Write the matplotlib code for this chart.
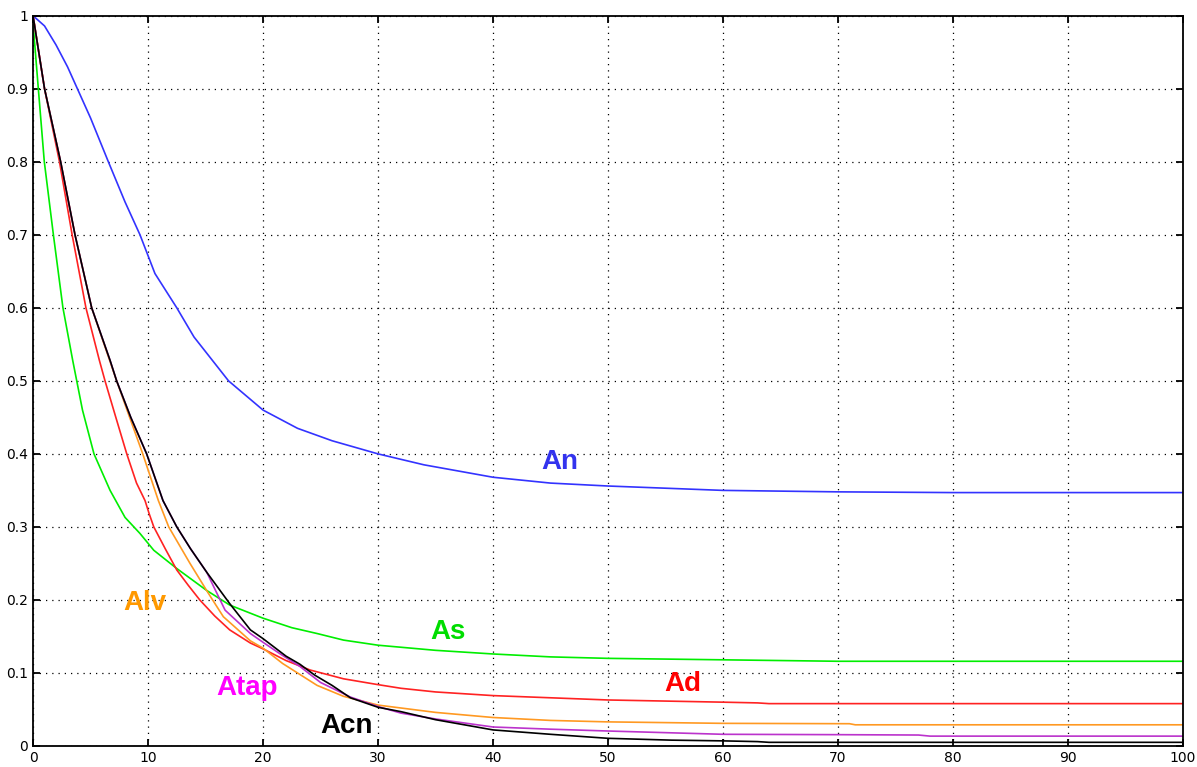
import matplotlib.pyplot as plt
from matplotlib.ticker import FuncFormatter

# curves (x, y pairs)
an_x = [0, 1, 2, 3, 4, 5, 6.55, 8, 9.3, 10.6, 12.5, 14, 15.5, 17, 20, 23, 26, 30, 34, 40, 45, 50, 60, 70, 80, 100]
an_y = [1, 0.986, 0.96, 0.93, 0.895, 0.86, 0.80, 0.745, 0.70, 0.647, 0.60, 0.56, 0.53, 0.50, 0.46, 0.435, 0.418, 0.40, 0.385, 0.368, 0.36, 0.356, 0.35, 0.348, 0.347, 0.347]

as_x = [0, 0.46, 0.98, 1.77, 2.6, 3.45, 4.3, 5.3, 6.7, 8, 9.3, 10.5, 12.5, 15.1, 17.1, 20, 22.5, 24.7, 27, 30, 35, 40, 45, 50, 60, 70, 100]
as_y = [0.99, 0.9, 0.8, 0.7, 0.6, 0.528, 0.46, 0.40, 0.35, 0.313, 0.291, 0.268, 0.243, 0.213, 0.193, 0.175, 0.162, 0.154, 0.145, 0.138, 0.131, 0.126, 0.122, 0.12, 0.118, 0.116, 0.116]

ad_x = [0, 1.0, 2.3, 3.4, 4.6, 5.77, 6.26, 7.2, 8.15, 9.0, 9.74, 10.1, 10.5, 11.5, 12.5, 13.5, 14.5, 15.8, 17.1, 18.9, 20, 22, 24.1, 27, 30, 32, 35, 40, 45, 50, 60, 63, 64, 100]
ad_y = [1, 0.9, 0.8, 0.7, 0.6, 0.528, 0.5, 0.45, 0.40, 0.36, 0.336, 0.318, 0.30, 0.27, 0.241, 0.22, 0.20, 0.178, 0.159, 0.141, 0.133, 0.117, 0.104, 0.092, 0.084, 0.079, 0.074, 0.069, 0.066, 0.063, 0.060, 0.059, 0.058, 0.058]

alv_x = [0, 1.0, 2.4, 3.65, 5.1, 6.4, 7.27, 8.4, 9.54, 10.9, 11.8, 13.65, 15.25, 16.55, 18.9, 20, 21.7, 24.7, 27, 30, 32, 35, 40, 45, 50, 60, 71, 71.5, 100]
alv_y = [1, 0.9, 0.8, 0.7, 0.6, 0.54, 0.5, 0.45, 0.40, 0.336, 0.30, 0.25, 0.209, 0.177, 0.144, 0.134, 0.113, 0.083, 0.068, 0.056, 0.052, 0.046, 0.039, 0.035, 0.033, 0.031, 0.0305, 0.029, 0.029]

acn_x = [0, 1.0, 2.4, 3.65, 5.1, 6.7, 7.27, 8.5, 9.88, 11.3, 12.5, 13.7, 15.1, 17.1, 18.9, 20, 22, 23.2, 24.5, 26, 27.6, 30, 32, 35, 40, 45, 50, 55.5, 60, 63, 64, 100]
acn_y = [1, 0.9, 0.8, 0.7, 0.6, 0.528, 0.5, 0.45, 0.40, 0.336, 0.30, 0.27, 0.238, 0.195, 0.159, 0.147, 0.123, 0.112, 0.097, 0.083, 0.066, 0.053, 0.047, 0.036, 0.022, 0.016, 0.0105, 0.008, 0.007, 0.006, 0.005, 0.005]

atap_x = [0, 1.0, 2.4, 3.65, 5.1, 6.7, 7.27, 8.5, 9.88, 11.3, 12.5, 13.7, 15.1, 16.7, 18.9, 20, 21.5, 23.2, 25, 27.6, 30, 32, 35, 40, 45, 50, 60, 70, 77, 78, 100]
atap_y = [1, 0.9, 0.8, 0.7, 0.6, 0.528, 0.5, 0.45, 0.40, 0.336, 0.30, 0.27, 0.238, 0.186, 0.154, 0.142, 0.126, 0.109, 0.087, 0.067, 0.054, 0.045, 0.037, 0.026, 0.023, 0.0205, 0.016, 0.0155, 0.015, 0.0135, 0.0135]

labels = ["An", "As", "Ad", "Alv", "Atap", "Acn"]
label_pos = [(45.8, 0.389), (36.1, 0.156), (56.5, 0.085), (9.7, 0.196), (18.6, 0.079), (27.3, 0.027)]
text_colors = ["#3333ee", "#00dd00", "#ff0000", "#ff9900", "#ff00ff", "#000000"]
line_colors = ["#3333ff", "#00ee00", "#ff2222", "#ff9922", "#bb33cc", "#000000"]


def main():
    fig = plt.figure(figsize=(11.97, 7.67), dpi=100)
    ax = fig.add_axes([0.0276, 0.0274, 0.9607, 0.9521])

    curves = [(an_x, an_y), (as_x, as_y), (ad_x, ad_y), (alv_x, alv_y), (atap_x, atap_y), (acn_x, acn_y)]
    # magenta goes down before black so black sits on top where they overlap
    for (xs, ys), c in zip(curves, line_colors):
        ax.plot(xs, ys, color=c, lw=1.2)

    for name, (tx, ty), c in zip(labels, label_pos, text_colors):
        ax.text(tx, ty, name, color=c, fontsize=20, fontweight="bold",
                ha="center", va="center", family="Liberation Sans")

    ax.set_xlim(0, 100)
    ax.set_ylim(0, 1)
    ax.set_xticks(range(0, 101, 10))
    ax.set_yticks([i / 10 for i in range(11)])
    ax.yaxis.set_major_formatter(FuncFormatter(lambda v, p: f"{v:g}"))
    ax.tick_params(direction="in", top=True, right=True, labelsize=10, length=5, width=1.3)
    ax.grid(True, color="black", linestyle=(0, (1, 4)), linewidth=0.9)
    for s in ax.spines.values():
        s.set_linewidth(1.3)

    fig.savefig("out.png", dpi=100)
    plt.close(fig)


if __name__ == "__main__":
    main()
